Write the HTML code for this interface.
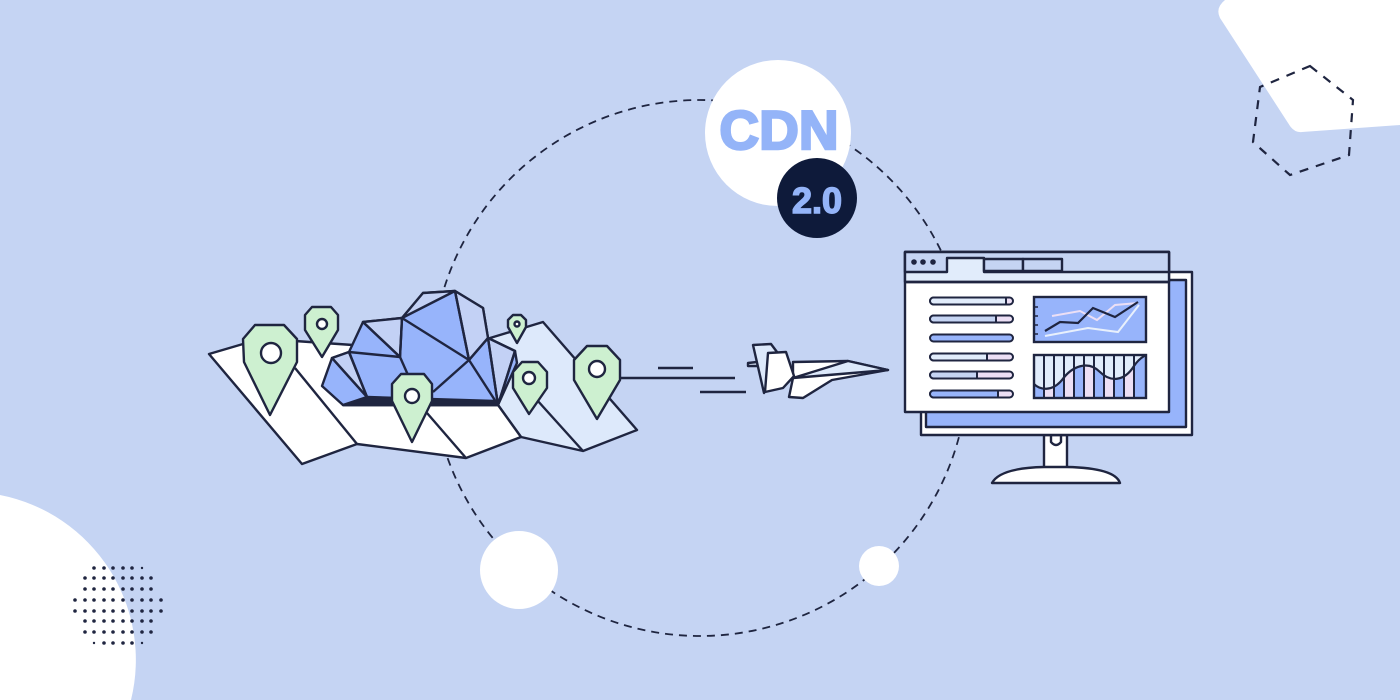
<!DOCTYPE html>
<html><head><meta charset="utf-8"><style>
html,body{margin:0;padding:0;background:#c5d4f3;width:1400px;height:700px;overflow:hidden}
svg{display:block;position:absolute;left:0;top:0}
</style></head><body>
<svg width="1400" height="700" viewBox="0 0 1400 700" xmlns="http://www.w3.org/2000/svg" font-family="Liberation Sans, sans-serif">
<rect width="1400" height="700" fill="#c5d4f3"/>
<path d="M0,495 A168,168 0 0 1 131,700 L0,700 Z" fill="#fff"/>
<g fill="#1f2540">
<circle cx="94" cy="568" r="1.8"/><circle cx="104" cy="568" r="1.8"/><circle cx="113" cy="568" r="1.8"/><circle cx="123" cy="568" r="1.8"/><circle cx="132" cy="568" r="1.8"/><circle cx="142" cy="568" r="1.2"/>
<circle cx="85" cy="578" r="1.8"/><circle cx="94" cy="578" r="1.8"/><circle cx="104" cy="578" r="1.8"/><circle cx="113" cy="578" r="1.8"/><circle cx="123" cy="578" r="1.8"/><circle cx="132" cy="578" r="1.8"/><circle cx="142" cy="578" r="1.8"/><circle cx="151" cy="578" r="1.8"/>
<circle cx="85" cy="589" r="1.8"/><circle cx="94" cy="589" r="1.8"/><circle cx="104" cy="589" r="1.8"/><circle cx="113" cy="589" r="1.8"/><circle cx="123" cy="589" r="1.8"/><circle cx="132" cy="589" r="1.8"/><circle cx="142" cy="589" r="1.8"/><circle cx="151" cy="589" r="1.8"/>
<circle cx="75" cy="600" r="1.8"/><circle cx="85" cy="600" r="1.8"/><circle cx="94" cy="600" r="1.8"/><circle cx="104" cy="600" r="1.8"/><circle cx="113" cy="600" r="1.8"/><circle cx="123" cy="600" r="1.8"/><circle cx="132" cy="600" r="1.8"/><circle cx="142" cy="600" r="1.8"/><circle cx="151" cy="600" r="1.8"/><circle cx="161" cy="600" r="1.8"/>
<circle cx="75" cy="611" r="1.8"/><circle cx="85" cy="611" r="1.8"/><circle cx="94" cy="611" r="1.8"/><circle cx="104" cy="611" r="1.8"/><circle cx="113" cy="611" r="1.8"/><circle cx="123" cy="611" r="1.8"/><circle cx="132" cy="611" r="1.8"/><circle cx="142" cy="611" r="1.8"/><circle cx="151" cy="611" r="1.8"/><circle cx="161" cy="611" r="1.8"/>
<circle cx="85" cy="621" r="1.8"/><circle cx="94" cy="621" r="1.8"/><circle cx="104" cy="621" r="1.8"/><circle cx="113" cy="621" r="1.8"/><circle cx="123" cy="621" r="1.8"/><circle cx="132" cy="621" r="1.8"/><circle cx="142" cy="621" r="1.8"/><circle cx="151" cy="621" r="1.8"/>
<circle cx="85" cy="632" r="1.8"/><circle cx="94" cy="632" r="1.8"/><circle cx="104" cy="632" r="1.8"/><circle cx="113" cy="632" r="1.8"/><circle cx="123" cy="632" r="1.8"/><circle cx="132" cy="632" r="1.8"/><circle cx="142" cy="632" r="1.8"/><circle cx="151" cy="632" r="1.8"/>
<circle cx="94" cy="643" r="1.2"/><circle cx="104" cy="643" r="1.8"/><circle cx="113" cy="643" r="1.8"/><circle cx="123" cy="643" r="1.8"/><circle cx="132" cy="643" r="1.8"/><circle cx="142" cy="643" r="1.2"/>
</g>
<path d="M1225,0 L1400,0 L1400,125 L1302,132 Q1295,133 1290,126 L1220,18 Q1215,8 1225,0 Z" fill="#fff"/>
<polygon points="1310,66 1353,100 1349,155 1290,175 1253,142 1260,87" fill="none" stroke="#1f2540" stroke-width="2.2" stroke-dasharray="9,8"/>
<circle cx="700" cy="368" r="268" fill="none" stroke="#1f2540" stroke-width="1.8" stroke-dasharray="8,6"/>
<circle cx="519" cy="570" r="39" fill="#fff"/>
<circle cx="879" cy="566" r="20" fill="#fff"/>
<circle cx="778" cy="133" r="73" fill="#fff"/>
<text x="779" y="149" font-size="55" font-weight="bold" fill="#94b4f8" stroke="#94b4f8" stroke-width="2.5" text-anchor="middle">CDN</text>
<circle cx="817" cy="198" r="40" fill="#0e1a3a"/>
<text x="817" y="213" font-size="36" font-weight="bold" fill="#94b4f8" stroke="#94b4f8" stroke-width="1.5" text-anchor="middle">2.0</text>

<g stroke="#1f2540" stroke-width="2.4" stroke-linejoin="round">
<polygon points="543,322 637,430 583,451 521,437 498,405 490,338" fill="#dde9fb"/>
<polygon points="209,354 243,344 295,341 353,345 343,405 498,405 521,437 466,458 357,444 302,464" fill="#fff"/>
<polyline points="295,368 357,444" fill="none"/>
<polyline points="427,413 466,458" fill="none"/>
<polyline points="537,400 583,451" fill="none"/>
<polygon points="322,386 332,358 349,352 363,322 402,318 423,293 455,291 483,308 488,338 515,351 517,363 498,405 343,405" fill="#97b4fb"/>
<polygon points="363,322 402,318 400,357" fill="#c3d1f5"/>
<polygon points="332,358 349,352 367,397" fill="#c3d1f5"/>
<polygon points="423,293 455,291 402,318" fill="#c3d1f5"/>
<polygon points="455,291 483,308 488,338 469,360" fill="#c3d1f5"/>
<polygon points="488,338 515,351 498,405" fill="#c3d1f5"/>
<g fill="none">
<line x1="402" y1="318" x2="400" y2="357"/><line x1="349" y1="352" x2="400" y2="357"/>
<line x1="363" y1="322" x2="400" y2="357"/><line x1="332" y1="358" x2="367" y2="397"/>
<line x1="349" y1="352" x2="367" y2="397"/><line x1="402" y1="318" x2="469" y2="360"/>
<line x1="455" y1="291" x2="469" y2="360"/><line x1="469" y1="360" x2="488" y2="338"/>
<line x1="488" y1="338" x2="498" y2="405"/><line x1="469" y1="360" x2="498" y2="405"/>
<line x1="469" y1="360" x2="433" y2="392"/><line x1="400" y1="357" x2="408" y2="375"/>
<line x1="515" y1="351" x2="498" y2="405"/>
</g>
<polygon points="367,397 343,405 498,405 494,401" fill="#1f2540"/>
<g fill="#cdf0d0">
<polygon points="255,325 284,325 297,339 297,362 270,415 244,362 243,339"/>
<polygon points="312,307 331,307 338,315 338,330 322,357 305,330 305,315"/>
<polygon points="401,374 424,374 432,384 432,401 412,442 392,401 392,384"/>
<polygon points="513,315 521,315 526,320 526,327 517,343 508,327 508,320"/>
<polygon points="522,362 538,362 547,372 547,388 529,414 513,388 513,372"/>
<polygon points="587,346 607,346 620,360 620,380 597,419 574,380 574,360"/>
</g>
<g fill="#fff">
<circle cx="271" cy="353" r="10"/><circle cx="322" cy="324" r="5"/><circle cx="412" cy="396" r="7"/>
<circle cx="517" cy="324" r="2.5"/><circle cx="529" cy="378" r="6"/><circle cx="597" cy="369" r="8"/>
</g>
<line x1="620" y1="378" x2="735" y2="378"/>
<line x1="658" y1="368" x2="693" y2="368"/>
<line x1="700" y1="392" x2="746" y2="392"/>
</g>
<g stroke="#1f2540" stroke-width="2.4" stroke-linejoin="round">
<polygon points="748,363 757,362 758,366 748,366" fill="#dde9fb"/>
<polygon points="753,345 771,344 777,352 764,393" fill="#dde9fb"/>
<polygon points="793,362 848,361 888,370 832,380 803,398 789,397 793,378" fill="#fff"/>
<polygon points="848,361 888,370 793,378" fill="#dde9fb"/>
<polygon points="768,353 786,352 794,376 783,388 765,392" fill="#fff"/>
</g>
<g stroke="#1f2540" stroke-width="2.4" stroke-linejoin="round">
<path d="M1044,435 L1044,475 L1067,475 L1067,435 Z" fill="#fff"/>
<path d="M992,483 Q1000,468 1044,467 L1067,467 Q1115,468 1120,483 Z" fill="#fff"/>
<rect x="921" y="272" width="271" height="163" fill="#fff"/>
<rect x="926" y="280" width="260" height="147" fill="#97b4fb"/>
<path d="M1051,435 L1051,442 Q1056,448 1061,442 L1061,435" fill="none"/>
<rect x="905" y="252" width="264" height="160" fill="#fff"/>
<rect x="905" y="252" width="264" height="30" fill="#e1ecfb"/>
<path d="M905,252 L1169,252 L1169,272 L984,272 L984,258 L947,258 L947,272 L905,272 Z" fill="#c5d4f3"/>
<rect x="984" y="259" width="39" height="12" fill="#c5d4f3"/>
<rect x="1023" y="259" width="39" height="12" fill="#c5d4f3"/>
<line x1="905" y1="282" x2="1169" y2="282"/>
</g>
<g fill="#1f2540"><circle cx="914" cy="262" r="2.8"/><circle cx="923" cy="262" r="2.8"/><circle cx="933" cy="262" r="2.8"/></g>
<g stroke="#1f2540" stroke-width="2">
<rect x="930" y="297.5" width="83" height="7" rx="3.5" fill="#ecdff5"/>
<path d="M933.5,297.5 H1006 V304.5 H933.5 A3.5,3.5 0 0 1 933.5,297.5 Z" fill="#e1ecfb"/>
<rect x="930" y="315.5" width="83" height="7" rx="3.5" fill="#ecdff5"/>
<path d="M933.5,315.5 H996 V322.5 H933.5 A3.5,3.5 0 0 1 933.5,315.5 Z" fill="#c5d4f3"/>
<rect x="930" y="334.5" width="83" height="7" rx="3.5" fill="#97b4fb"/>
<rect x="930" y="353.5" width="83" height="7" rx="3.5" fill="#ecdff5"/>
<path d="M933.5,353.5 H987 V360.5 H933.5 A3.5,3.5 0 0 1 933.5,353.5 Z" fill="#e1ecfb"/>
<rect x="930" y="371.5" width="83" height="7" rx="3.5" fill="#ecdff5"/>
<path d="M933.5,371.5 H977 V378.5 H933.5 A3.5,3.5 0 0 1 933.5,371.5 Z" fill="#c5d4f3"/>
<rect x="930" y="390.5" width="83" height="7" rx="3.5" fill="#ecdff5"/>
<path d="M933.5,390.5 H998 V397.5 H933.5 A3.5,3.5 0 0 1 933.5,390.5 Z" fill="#97b4fb"/>
</g>
<rect x="1034" y="297" width="112" height="45" fill="#97b4fb" stroke="#1f2540" stroke-width="2.4"/>
<g stroke="#1f2540" stroke-width="1.5"><line x1="1034" y1="307" x2="1038" y2="307"/><line x1="1034" y1="316" x2="1038" y2="316"/><line x1="1034" y1="325" x2="1038" y2="325"/><line x1="1034" y1="334" x2="1038" y2="334"/></g>
<polyline points="1052,316 1080,311 1097,320 1115,305 1138,303" fill="none" stroke="#ecdff5" stroke-width="2"/>
<polyline points="1045,336 1088,328 1118,332 1139,305" fill="none" stroke="#e8f0fc" stroke-width="2"/>
<polyline points="1045,331 1060,322 1078,323 1093,308 1115,317 1138,302" fill="none" stroke="#1f2540" stroke-width="2.2"/>
<g>
<rect x="1034" y="355" width="112" height="43" fill="#97b4fb"/>
<g fill="#ecdff5"><rect x="1044" y="355" width="10" height="43"/><rect x="1064" y="355" width="10" height="43"/><rect x="1084" y="355" width="10" height="43"/><rect x="1104" y="355" width="10" height="43"/><rect x="1124" y="355" width="10" height="43"/></g>
<path d="M1034,355 L1034,384 C1040,390 1052,392 1062,380 C1072,366 1088,360 1100,372 C1110,382 1124,382 1134,366 C1138,360 1142,357 1146,355 Z" fill="#e1ecfb"/>
<path d="M1034,384 C1040,390 1052,392 1062,380 C1072,366 1088,360 1100,372 C1110,382 1124,382 1134,366 C1138,360 1142,357 1146,355" fill="none" stroke="#1f2540" stroke-width="2.2"/>
<g stroke="#1f2540" stroke-width="2"><line x1="1044" y1="355" x2="1044" y2="398"/><line x1="1054" y1="355" x2="1054" y2="398"/><line x1="1064" y1="355" x2="1064" y2="398"/><line x1="1074" y1="355" x2="1074" y2="398"/><line x1="1084" y1="355" x2="1084" y2="398"/><line x1="1094" y1="355" x2="1094" y2="398"/><line x1="1104" y1="355" x2="1104" y2="398"/><line x1="1114" y1="355" x2="1114" y2="398"/><line x1="1124" y1="355" x2="1124" y2="398"/><line x1="1134" y1="355" x2="1134" y2="398"/></g>
<rect x="1034" y="355" width="112" height="43" fill="none" stroke="#1f2540" stroke-width="2.4"/>
</g>
</svg>
</body></html>
